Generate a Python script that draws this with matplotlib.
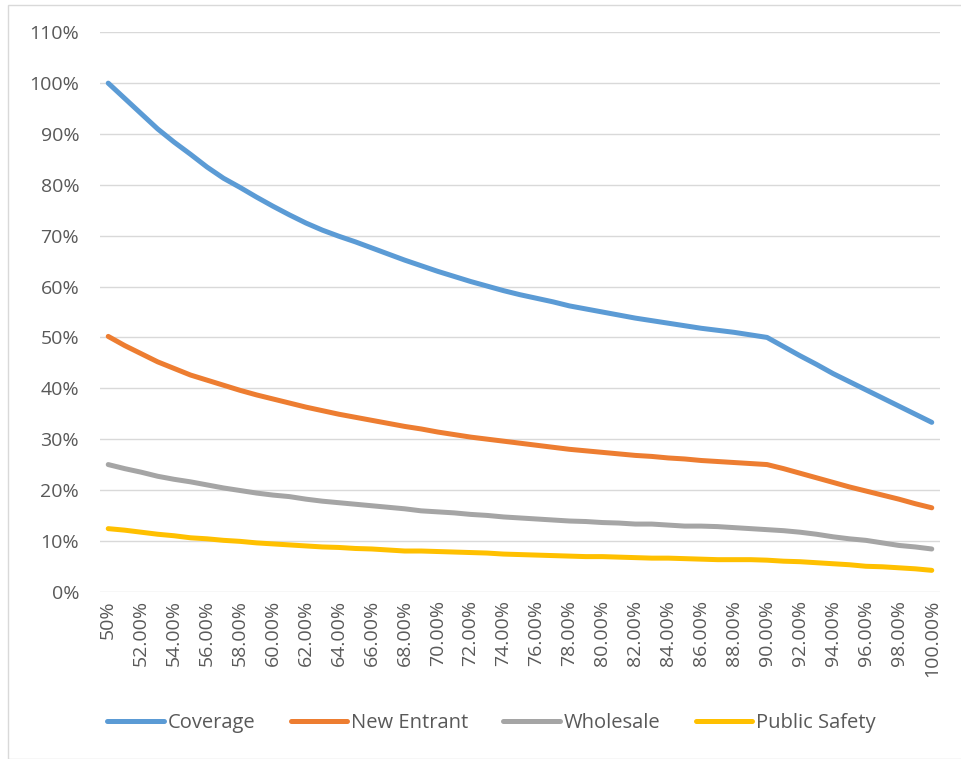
import numpy as np
import matplotlib
matplotlib.use("Agg")
import matplotlib.pyplot as plt
from matplotlib.patches import Rectangle

# x categories: 50% .. 100% in 1% steps
x_pct = list(range(50, 101))

coverage = [100.0, 97.0, 94.0, 91.0, 88.4, 86.0, 83.5, 81.3, 79.5, 77.6,
            75.8, 74.1, 72.5, 71.1, 69.9, 68.8, 67.6, 66.4, 65.2, 64.1,
            63.0, 62.0, 61.0, 60.1, 59.2, 58.4, 57.7, 57.0, 56.2, 55.6,
            55.0, 54.4, 53.8, 53.3, 52.8, 52.3, 51.8, 51.4, 51.0, 50.5,
            50.0, 48.2, 46.4, 44.7, 42.9, 41.3, 39.7, 38.1, 36.5, 34.9, 33.3]
new_entrant = [50.2, 48.4, 46.8, 45.2, 43.9, 42.6, 41.6, 40.6, 39.6, 38.7,
               37.9, 37.1, 36.3, 35.6, 34.9, 34.3, 33.7, 33.1, 32.5, 32.0,
               31.4, 30.9, 30.4, 30.0, 29.6, 29.2, 28.8, 28.4, 28.0, 27.7,
               27.4, 27.1, 26.8, 26.6, 26.3, 26.1, 25.8, 25.6, 25.4, 25.2,
               25.0, 24.2, 23.3, 22.4, 21.5, 20.6, 19.8, 19.0, 18.2, 17.3, 16.5]
wholesale = [25.0, 24.2, 23.5, 22.7, 22.1, 21.6, 21.0, 20.4, 19.9, 19.4,
             19.0, 18.7, 18.2, 17.8, 17.5, 17.2, 16.9, 16.6, 16.3, 15.9,
             15.7, 15.5, 15.2, 15.0, 14.7, 14.5, 14.3, 14.1, 13.9, 13.8,
             13.6, 13.5, 13.3, 13.3, 13.1, 12.9, 12.9, 12.8, 12.6, 12.4,
             12.2, 12.0, 11.7, 11.3, 10.8, 10.4, 10.1, 9.6, 9.1, 8.8, 8.4]
public_safety = [12.4, 12.1, 11.7, 11.3, 11.0, 10.6, 10.4, 10.1, 9.9, 9.6,
                 9.4, 9.2, 9.0, 8.8, 8.7, 8.5, 8.4, 8.2, 8.0, 8.0,
                 7.9, 7.8, 7.7, 7.6, 7.4, 7.3, 7.2, 7.1, 7.0, 6.9,
                 6.9, 6.8, 6.7, 6.6, 6.6, 6.5, 6.4, 6.3, 6.3, 6.3,
                 6.2, 6.0, 5.9, 5.7, 5.5, 5.3, 5.0, 4.9, 4.7, 4.5, 4.2]

series = [("Coverage", coverage, "#5B9BD5"),
          ("New Entrant", new_entrant, "#ED7D31"),
          ("Wholesale", wholesale, "#A5A5A5"),
          ("Public Safety", public_safety, "#FFC000")]

x_labels = ["50%"] + ["%.2f%%" % v for v in x_pct[2::2]]

plt.rcParams["font.family"] = ["Open Sans", "DejaVu Sans"]
txt = "#595959"

W, H = 961, 759
fig = plt.figure(figsize=(W / 100, H / 100), dpi=100)
ax = fig.add_axes([100 / W, 1 - 591.7 / H, 840 / W, (591.7 - 32.3) / H])

idx = np.arange(len(x_pct))
for name, vals, col in series:
    ax.plot(idx, np.array(vals) / 100, color=col, lw=3.6, label=name,
            solid_capstyle="round", solid_joinstyle="round")

ax.set_xlim(-0.5, len(x_pct) - 0.5)
ax.set_ylim(0, 1.1)
ax.set_yticks(np.arange(0, 1.11, 0.1))
ax.set_yticklabels(["%d%%" % round(v * 100) for v in np.arange(0, 1.11, 0.1)])
ax.set_xticks(idx[::2])
ax.set_xticklabels(x_labels, rotation=90, va="top", ha="center")
ax.grid(axis="y", color="#D9D9D9", lw=1.0)
ax.set_axisbelow(True)
for s in ax.spines.values():
    s.set_visible(False)
ax.tick_params(axis="both", length=0, colors=txt, labelsize=14)
ax.tick_params(axis="y", pad=15)
ax.tick_params(axis="x", pad=6)

leg = fig.legend(loc="center", bbox_to_anchor=(491.5 / W, 1 - 723 / H), ncol=4,
                 frameon=False, fontsize=14.5, handlelength=2.8,
                 handletextpad=0.2, columnspacing=1.75)
for t in leg.get_texts():
    t.set_color(txt)

fig.patches.append(Rectangle((8 / W, 0), 1.0, 1 - 5 / H, transform=fig.transFigure,
                             fill=False, edgecolor="#D9D9D9", lw=1.0))

fig.savefig("out.png", dpi=100)
